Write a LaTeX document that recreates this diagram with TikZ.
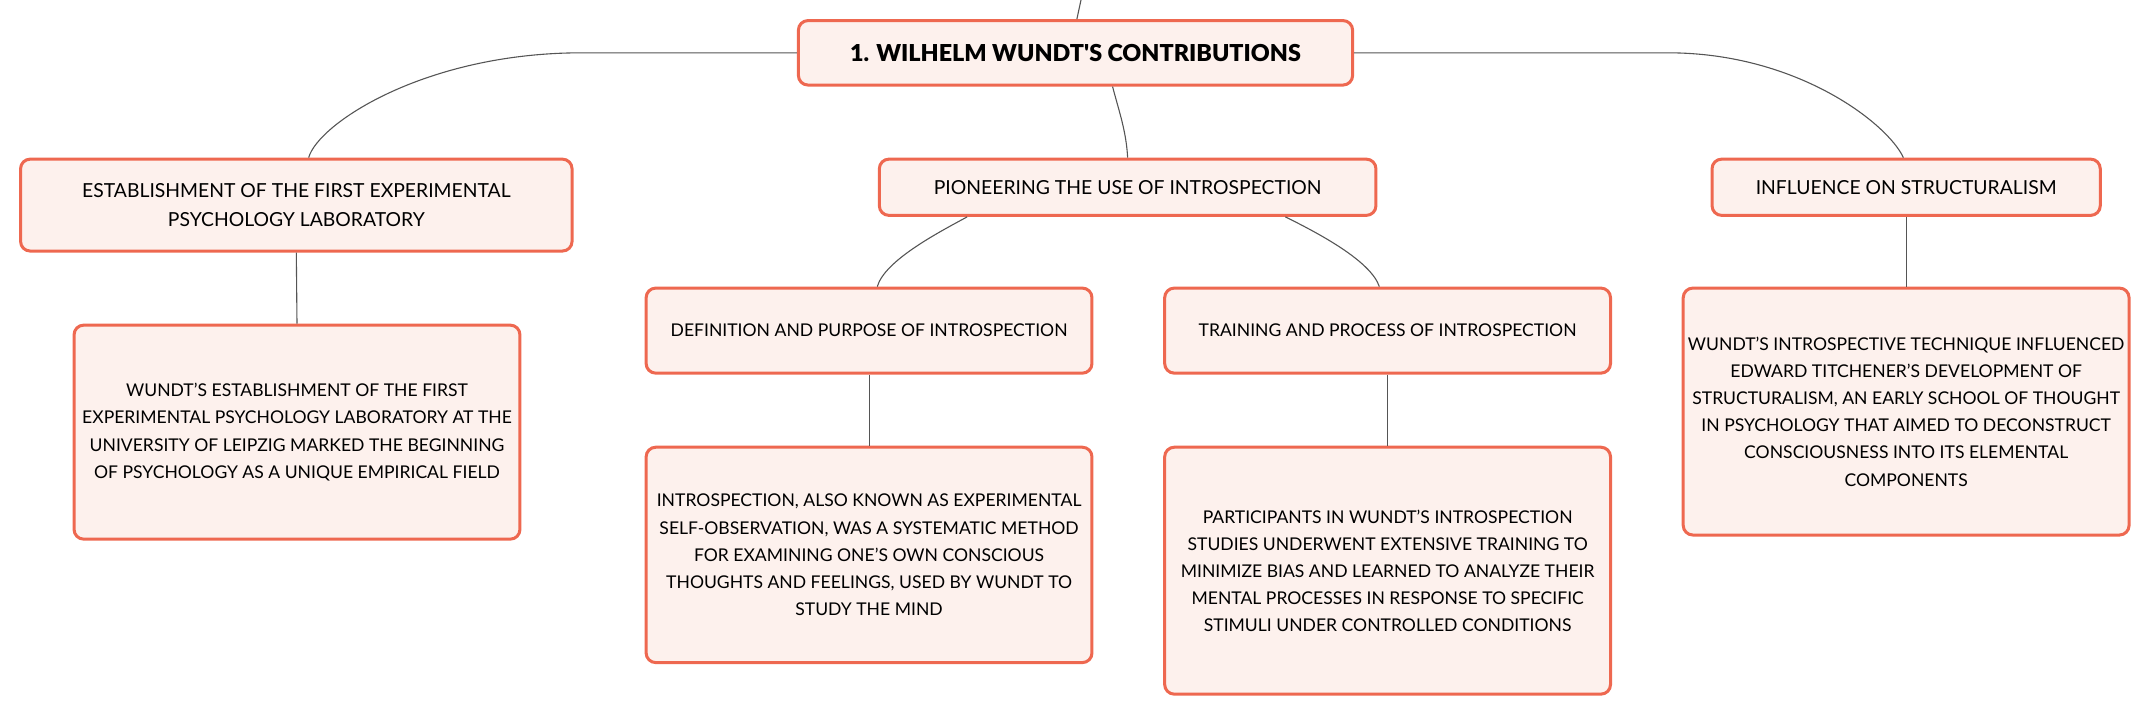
\documentclass[tikz,border=0pt]{standalone}
\usepackage{fontspec}
\setmainfont{Lato}
\newfontfamily\heavyfont{Lato Black}
\definecolor{boxline}{RGB}{238,104,80}
\definecolor{boxfill}{RGB}{253,241,237}
\definecolor{linkgray}{RGB}{85,85,85}
\begin{document}
\begin{tikzpicture}[x=1pt,y=-1pt,
  topic/.style={draw=boxline,fill=boxfill,line width=2.2pt,rounded corners=7pt,
    align=center,inner sep=0pt,font=\fontsize{12.8}{19.8}\selectfont},
  subject/.style={topic,font=\fontsize{14.1}{21.3}\selectfont},
  link/.style={draw=linkgray,line width=0.8pt}]
\useasboundingbox (0,0) rectangle (1568,522.7);

\node[topic,minimum width=404pt,minimum height=47pt,font=\fontsize{17}{20}\heavyfont] (wundt) at (784,38.5) {1. WILHELM WUNDT'S CONTRIBUTIONS};

\node[subject,minimum width=402pt,minimum height=67pt] (lab) at (216,149.5) {ESTABLISHMENT OF THE FIRST EXPERIMENTAL\\PSYCHOLOGY LABORATORY};
\node[subject,minimum width=362pt,minimum height=41pt] (intro) at (822,136.5) {PIONEERING THE USE OF INTROSPECTION};
\node[subject,minimum width=283pt,minimum height=41pt] (struct) at (1389.5,136.5) {INFLUENCE ON STRUCTURALISM};

\node[topic,minimum width=325pt,minimum height=156pt] (labtext) at (216.5,315) {WUNDT'S ESTABLISHMENT OF THE FIRST\\EXPERIMENTAL PSYCHOLOGY LABORATORY AT THE\\UNIVERSITY OF LEIPZIG MARKED THE BEGINNING\\OF PSYCHOLOGY AS A UNIQUE EMPIRICAL FIELD};
\node[topic,minimum width=325pt,minimum height=62pt] (defn) at (633.5,241) {DEFINITION AND PURPOSE OF INTROSPECTION};
\node[topic,minimum width=325pt,minimum height=62pt] (train) at (1011.5,241) {TRAINING AND PROCESS OF INTROSPECTION};
\node[topic,minimum width=325pt,minimum height=157pt] (defntext) at (633.5,404.5) {INTROSPECTION, ALSO KNOWN AS EXPERIMENTAL\\SELF-OBSERVATION, WAS A SYSTEMATIC METHOD\\FOR EXAMINING ONE'S OWN CONSCIOUS\\THOUGHTS AND FEELINGS, USED BY WUNDT TO\\STUDY THE MIND};
\node[topic,minimum width=325pt,minimum height=180pt] (traintext) at (1011.5,416) {PARTICIPANTS IN WUNDT'S INTROSPECTION\\STUDIES UNDERWENT EXTENSIVE TRAINING TO\\MINIMIZE BIAS AND LEARNED TO ANALYZE THEIR\\MENTAL PROCESSES IN RESPONSE TO SPECIFIC\\STIMULI UNDER CONTROLLED CONDITIONS};
\node[topic,minimum width=325pt,minimum height=180pt] (structtext) at (1389.5,300) {WUNDT'S INTROSPECTIVE TECHNIQUE INFLUENCED\\EDWARD TITCHENER'S DEVELOPMENT OF\\STRUCTURALISM, AN EARLY SCHOOL OF THOUGHT\\IN PSYCHOLOGY THAT AIMED TO DECONSTRUCT\\CONSCIOUSNESS INTO ITS ELEMENTAL\\COMPONENTS};

% links
\coordinate (up) at (788,0);
\draw[link] (up) -- ([xshift=1pt]wundt.north);
\draw[link] (wundt.west) -- (424,38.5) .. controls (310,38.5) and (232,90) .. ([xshift=9pt]lab.north);
\draw[link] (wundt.east) -- (1216,38.5) .. controls (1310,38.5) and (1376,90) .. ([xshift=-2pt]struct.north);
\draw[link] ([xshift=27pt]wundt.south) .. controls (816,82) and (821,96) .. (intro.north);
\draw[link] ([xshift=-117pt]intro.south) .. controls (683,170) and (645,190) .. ([xshift=6pt]defn.north);
\draw[link] ([xshift=115pt]intro.south) .. controls (961,170) and (999,190) .. ([xshift=-6pt]train.north);
\draw[link] (lab.south) -- (labtext.north);
\draw[link] (defn.south) -- (defntext.north);
\draw[link] (train.south) -- (traintext.north);
\draw[link] (struct.south) -- (structtext.north);
\end{tikzpicture}
\end{document}
